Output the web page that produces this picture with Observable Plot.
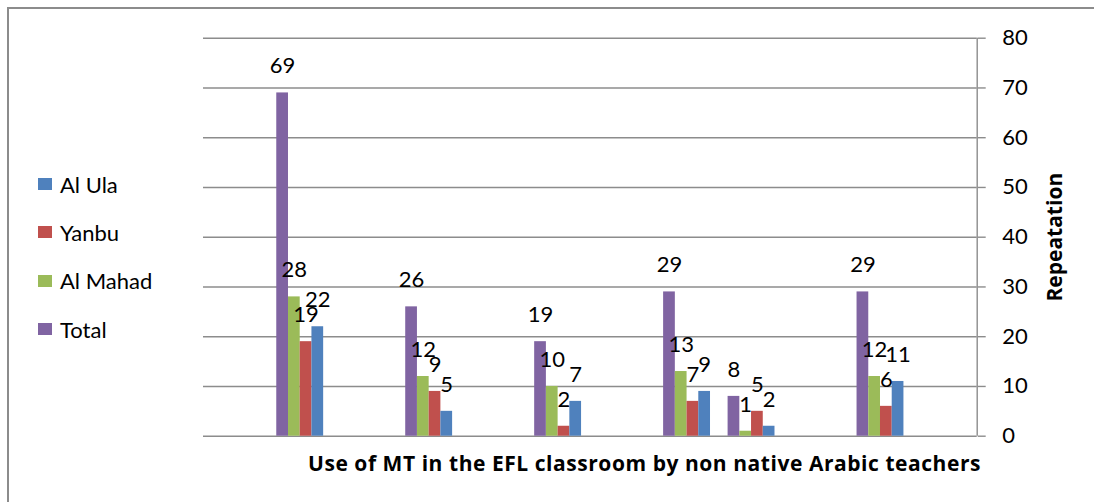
<!DOCTYPE html>
<html>
<head>
<meta charset="utf-8">
<script src="https://cdn.jsdelivr.net/npm/d3@7"></script>
<script src="https://cdn.jsdelivr.net/npm/@observablehq/plot@0.6"></script>
<style>
  html, body { margin: 0; padding: 0; background: #fff; }
  #wrap { position: relative; width: 1094px; height: 502px; overflow: hidden; background: #fff; font-family: Lato, "Open Sans", sans-serif; }
  #border { position: absolute; left: 7px; top: 6.5px; width: 1300px; height: 700px; border: 2px solid #8c8c8c; box-sizing: border-box; pointer-events: none; }
  #chart { position: absolute; left: 0; top: 0; }
  #legend { position: absolute; left: 38px; top: 160px; }
  .item { height: 48.3px; display: flex; align-items: center; font-size: 22px; color: #000; }
  .sw { width: 14px; height: 12px; margin-right: 8px; }
  .xtitle text { letter-spacing: 0.55px; }
</style>
</head>
<body>
<div id="wrap">
  <div id="chart"></div>
  <div id="border"></div>
  <div id="legend"></div>
</div>
<script>
// Category slots (the chart has no category labels; empty slots hold no bars)
const categories = ["C1","C2","C3","C4","C5","C6","C7","C8","C9","C10","C11","C12"];
const seriesNames = ["Total", "Al Mahad", "Yanbu", "Al Ula"];
const seriesColors = ["#8064A2", "#9BBB59", "#C0504D", "#4F81BD"];
const total   = [null, 69, null, 26, null, 19, null, 29, 8, null, 29, null];
const alMahad = [null, 28, null, 12, null, 10, null, 13, 1, null, 12, null];
const yanbu   = [null, 19, null,  9, null,  2, null,  7, 5, null,  6, null];
const alUla   = [null, 22, null,  5, null,  7, null,  9, 2, null, 11, null];
const yTicks = [0, 10, 20, 30, 40, 50, 60, 70, 80];
const xTitle = "Use of MT in the EFL classroom by non native Arabic teachers";
const yTitle = "Repeatation";

const seriesValues = [total, alMahad, yanbu, alUla];
const rows = [];
categories.forEach((c, i) => {
  seriesNames.forEach((s, j) => {
    const v = seriesValues[j][i];
    if (v != null) rows.push({i, c, s, j, v});
  });
});

const bw = 2 / 11;                 // bar width as a fraction of a slot
const pad = (1 - seriesNames.length * bw) / 2;
const x1 = d => d.i + pad + d.j * bw;
const x2 = d => d.i + pad + (d.j + 1) * bw;
const xc = d => d.i + pad + (d.j + 0.5) * bw;

const gridColor = "#8c8c8c";
const boldFont = "'Open Sans', Lato, sans-serif";

const chart = Plot.plot({
  width: 1094,
  height: 502,
  marginLeft: 203,
  marginRight: 117.3,
  marginTop: 37.7,
  marginBottom: 66.3,
  style: { fontFamily: "Lato, 'Open Sans', sans-serif", fontSize: "22px", background: "transparent", color: "#000" },
  x: { domain: [0, categories.length], axis: null },
  y: { domain: [0, 80], axis: null },
  color: { domain: seriesNames, range: seriesColors },
  marks: [
    Plot.gridY(yTicks, { stroke: gridColor, strokeOpacity: 1, strokeWidth: 1.4 }),
    Plot.ruleX([categories.length], { y1: 0, y2: 80, stroke: gridColor, strokeWidth: 1.4 }),
    Plot.axisY({ anchor: "right", ticks: yTicks, tickSize: 8, tickPadding: 17, stroke: gridColor, strokeWidth: 1.4, label: null, fontSize: 22, fill: "#000" }),
    Plot.rectY(rows, { x1, x2, y1: 0, y2: "v", fill: "s" }),
    Plot.text(rows, { x: xc, y: "v", text: d => String(d.v), dy: -19.5, lineAnchor: "bottom", textAnchor: "middle", fontSize: 22, fill: "#000" }),
    Plot.text([yTitle], { frameAnchor: "right", textAnchor: "middle", lineAnchor: "middle", rotate: -90, dx: 78.3, fontWeight: "bold", fontSize: 21, fontFamily: boldFont, fill: "#000" }),
    Plot.text([xTitle], { className: "xtitle", frameAnchor: "bottom-right", textAnchor: "end", lineAnchor: "bottom", dx: 3.8, dy: 35, fontWeight: "bold", fontSize: 21, fontFamily: boldFont, fill: "#000" })
  ]
});
document.getElementById("chart").appendChild(chart);

const legend = document.getElementById("legend");
seriesNames.slice().reverse().forEach(s => {
  const k = seriesNames.indexOf(s);
  const item = document.createElement("div");
  item.className = "item";
  const sw = document.createElement("div");
  sw.className = "sw";
  sw.style.background = seriesColors[k];
  const t = document.createElement("span");
  t.textContent = s;
  item.appendChild(sw);
  item.appendChild(t);
  legend.appendChild(item);
});
</script>
</body>
</html>
